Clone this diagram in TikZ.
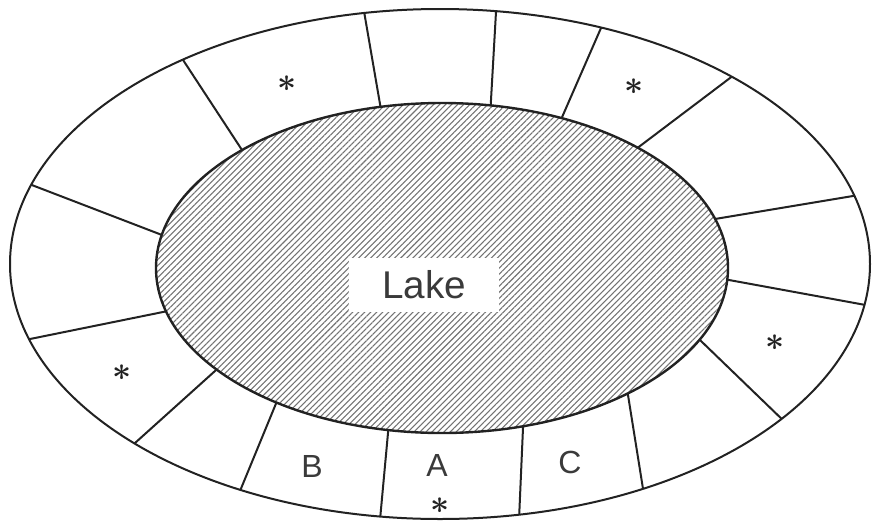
\documentclass[tikz,border=0pt]{standalone}
\usepackage{fontspec}
\setmainfont{Liberation Sans}
\usetikzlibrary{patterns.meta}

\tikzset{every picture/.style={line width=0.75pt}}
\definecolor{ink}{RGB}{34,34,34}
\definecolor{printgray}{RGB}{58,58,58}

\begin{document}
\begin{tikzpicture}[
                x=0.75pt,
                y=0.75pt,
                yscale=-1,
                xscale=1,
                color=ink,
                every node/.style={text=printgray},
                line width=1.5pt,
                plotlabel/.style={inner sep=0.75pt, font=\fontsize{24}{26}\selectfont},
                starmark/.style={inner sep=0pt, text=ink, font=\boldmath\fontsize{44}{44}\selectfont},
                lakewater/.style={pattern={Lines[angle=45,distance=3.2pt,line width=0.8pt]}, pattern color=black!55}
            ]
                \useasboundingbox (0,0) rectangle (872,526);

                % field boundaries, cut at the outer shore
                \begin{scope}
                \clip (440,264) ellipse [x radius=430, y radius=255];
                \draw [shorten <=-6pt, shorten >=-6pt] (380,104) -- (365,17) ;
                \draw [shorten <=-6pt, shorten >=-6pt] (242,150) -- (187,66) ;
                \draw [shorten <=-6pt, shorten >=-6pt] (162,235) -- (37,187) ;
                \draw [shorten <=-6pt, shorten >=-6pt] (163,312) -- (30,339) ;
                \draw [shorten <=-6pt, shorten >=-6pt] (215,371) -- (135,443) ;
                \draw [shorten <=-6pt, shorten >=-6pt] (275,406) -- (240,491) ;
                \draw [shorten <=-6pt, shorten >=-6pt] (388,433) -- (380,520) ;
                \draw [shorten <=-6pt, shorten >=-6pt] (523,428) -- (519,520) ;
                \draw [shorten <=-6pt, shorten >=-6pt] (628,395) -- (644,495) ;
                \draw [shorten <=-6pt, shorten >=-6pt] (701,341) -- (788,425) ;
                \draw [shorten <=-6pt, shorten >=-6pt] (729,280) -- (871,306) ;
                \draw [shorten <=-6pt, shorten >=-6pt] (721,218) -- (859,195) ;
                \draw [shorten <=-6pt, shorten >=-6pt] (644,143) -- (734,75) ;
                \draw [shorten <=-6pt, shorten >=-6pt] (563,115) -- (601,28) ;
                \draw [shorten <=-6pt, shorten >=-6pt] (491,100) -- (496,12) ;
                \end{scope}
                \draw   (440,264) ellipse [x radius=430, y radius=255] ;

                % the lake
                \fill [white] (442,268) ellipse [x radius=286, y radius=165] ;
                \fill [lakewater] (442,268) ellipse [x radius=286, y radius=165] ;
                \draw  [line width=1.8pt] (442,268) ellipse [x radius=286, y radius=165] ;

                \draw (424,285) node [fill=white, minimum width=112pt, minimum height=40pt, inner sep=0pt, font=\fontsize{29}{30}\selectfont] (lake) {Lake};

                \draw (312,466) node [plotlabel] (fieldB) {B};
                \draw (437,465) node [plotlabel] (fieldA) {A};
                \draw (570,462) node [plotlabel] (fieldC) {C};

                \draw (287,84) node [starmark] (starN1) {$\ast$};
                \draw (634,87) node [starmark] (starN2) {$\ast$};
                \draw (122,373) node [starmark] (starW) {$\ast$};
                \draw (775,343) node [starmark] (starE) {$\ast$};
                \draw (440,506) node [starmark] (starA) {$\ast$};
            \end{tikzpicture}
\end{document}
